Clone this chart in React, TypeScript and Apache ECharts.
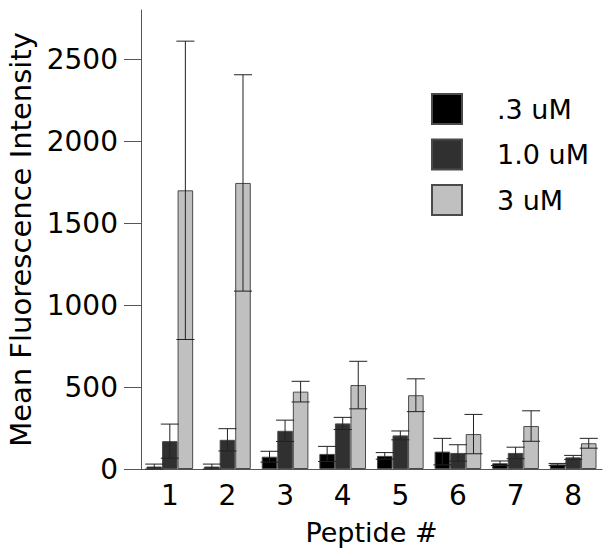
import React, { useEffect, useRef } from "react";
import * as echarts from "echarts";

const categories = ["1", "2", "3", "4", "5", "6", "7", "8"];
const seriesNames = [".3 uM", "1.0 uM", "3 uM"];
const lowValues = [15, 15, 75, 92, 80, 106, 35, 28];
const lowErrors = [15, 15, 33, 46, 20, 81, 14, 6];
const midValues = [170, 178, 233, 278, 205, 98, 98, 71];
const midErrors = [104, 68, 65, 37, 27, 50, 35, 12];
const highValues = [1700, 1745, 472, 512, 450, 213, 262, 157];
const highErrors = [910, 660, 63, 145, 100, 120, 93, 30];
const yTicks = [0, 500, 1000, 1500, 2000, 2500];

const FONT = "DejaVu Sans";
const CAT_GAP = 0.19;

export default function App() {
  const ref = useRef<HTMLDivElement>(null);
  useEffect(() => {
    if (!ref.current) return;
    const chart = echarts.init(ref.current, null, { renderer: "svg" });
    const values = [lowValues, midValues, highValues];
    const errors = [lowErrors, midErrors, highErrors];
    const colors = ["#000000", "#303030", "#c0c0c0"];

    const bars = values.map((vals, k) => ({
      type: "bar",
      name: seriesNames[k],
      data: vals,
      barGap: "0%",
      barCategoryGap: "19%",
      itemStyle: { color: colors[k], borderColor: "#4a4a4a", borderWidth: 1 },
      z: 2,
    }));

    const errSeries = values.map((vals, k) => ({
      type: "custom",
      data: vals.map((v, i) => [i, v, errors[k][i]]),
      encode: { x: 0, y: 1 },
      z: 5,
      silent: true,
      renderItem: (params: any, api: any) => {
        const x = api.value(0);
        const v = api.value(1);
        const e = api.value(2);
        const top = api.coord([x, v + e]);
        const bot = api.coord([x, Math.max(0, v - e)]);
        const catW = api.size([1, 0])[0];
        const barW = (catW * (1 - CAT_GAP)) / 3;
        const cx = top[0] + (k - 1) * barW;
        const hw = barW * 0.58;
        const style = { stroke: "#222", lineWidth: 1 };
        return {
          type: "group",
          children: [
            { type: "line", shape: { x1: cx, y1: top[1], x2: cx, y2: bot[1] }, style },
            { type: "line", shape: { x1: cx - hw, y1: top[1], x2: cx + hw, y2: top[1] }, style },
            { type: "line", shape: { x1: cx - hw, y1: bot[1], x2: cx + hw, y2: bot[1] }, style },
          ],
        };
      },
    }));

    chart.setOption({
      animation: false,
      backgroundColor: "#ffffff",
      textStyle: { fontFamily: FONT, color: "#000" },
      grid: { left: 141, right: 7, top: 10, bottom: 87, containLabel: false, outerBoundsMode: "none" },
      legend: {
        data: seriesNames,
        orient: "vertical",
        left: 426,
        top: 88,
        itemWidth: 30,
        itemHeight: 30,
        itemGap: 13.5,
        icon: "rect",
        textStyle: { fontSize: 27, fontFamily: FONT, color: "#000", padding: [0, 0, 0, 30] },
      },
      xAxis: {
        type: "category",
        data: categories,
        name: "Peptide #",
        nameLocation: "middle",
        nameGap: 50,
        nameTextStyle: { fontSize: 27, fontFamily: FONT, color: "#000" },
        axisLine: { lineStyle: { color: "#555", width: 1 } },
        axisTick: { show: false },
        axisLabel: { fontSize: 28, fontFamily: FONT, color: "#000", margin: 12 },
      },
      yAxis: {
        type: "value",
        min: 0,
        max: 2800,
        name: "Mean Fluorescence Intensity",
        nameLocation: "middle",
        nameGap: 106,
        nameTextStyle: { fontSize: 29, fontFamily: FONT, color: "#000" },
        splitLine: { show: false },
        axisLine: { show: true, lineStyle: { color: "#555", width: 1 } },
        axisTick: { show: true, length: 17, lineStyle: { color: "#555" }, customValues: yTicks },
        axisLabel: {
          fontSize: 28,
          fontFamily: FONT,
          color: "#000",
          margin: 23,
          customValues: yTicks,
          formatter: (v: number) => String(v),
        },
      },
      series: [...bars, ...errSeries],
    });
    return () => chart.dispose();
  }, []);
  return (
    <div
      ref={ref}
      style={{ position: "fixed", left: 0, top: 0, width: 609, height: 556, background: "#fff" }}
    />
  );
}
